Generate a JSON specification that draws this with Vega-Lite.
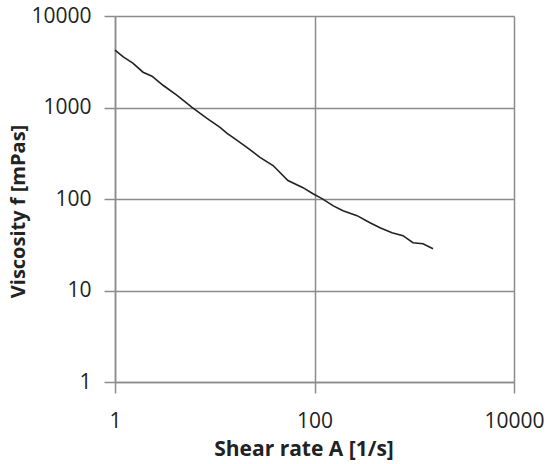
{
  "$schema": "https://vega.github.io/schema/vega-lite/v6.json",
  "width": 399,
  "height": 366,
  "autosize": {"type": "none"},
  "padding": {"left": 115, "top": 16, "right": 36, "bottom": 82},
  "background": "white",
  "config": {
    "view": {"stroke": null},
    "axis": {
      "labelFont": "Open Sans",
      "labelFontSize": 21,
      "labelColor": "#222222",
      "titleFont": "Open Sans",
      "titleFontWeight": "bold",
      "titleColor": "#222222",
      "gridColor": "#8c8c8c",
      "gridWidth": 1.5,
      "gridOpacity": 1,
      "domainColor": "#8c8c8c",
      "domainWidth": 1.5,
      "tickColor": "#8c8c8c",
      "tickWidth": 1.5,
      "tickSize": 11
    }
  },
  "data": {
    "values": [
      {"rate": 1, "visc": 4240},
      {"rate": 1.21, "visc": 3580},
      {"rate": 1.51, "visc": 3060},
      {"rate": 1.91, "visc": 2430},
      {"rate": 2.35, "visc": 2200},
      {"rate": 3.03, "visc": 1750},
      {"rate": 4.19, "visc": 1360},
      {"rate": 5.92, "visc": 1005},
      {"rate": 8.36, "visc": 762},
      {"rate": 11.3, "visc": 607},
      {"rate": 13.3, "visc": 522},
      {"rate": 15.2, "visc": 471},
      {"rate": 21.0, "visc": 366},
      {"rate": 28.4, "visc": 285},
      {"rate": 38.4, "visc": 232},
      {"rate": 54.2, "visc": 159},
      {"rate": 76.7, "visc": 133},
      {"rate": 96.6, "visc": 114},
      {"rate": 119, "visc": 101},
      {"rate": 153, "visc": 84.7},
      {"rate": 193, "visc": 74.6},
      {"rate": 267, "visc": 65.8},
      {"rate": 360, "visc": 55.1},
      {"rate": 454, "visc": 48.5},
      {"rate": 598, "visc": 42.8},
      {"rate": 771, "visc": 39.7},
      {"rate": 971, "visc": 33.3},
      {"rate": 1224, "visc": 32.4},
      {"rate": 1542, "visc": 28.6}
    ]
  },
  "mark": {"type": "line", "color": "#222222", "strokeWidth": 1.6},
  "encoding": {
    "x": {
      "field": "rate",
      "type": "quantitative",
      "scale": {"type": "log", "domain": [1, 10000], "nice": false},
      "axis": {
        "title": "Shear rate A [1/s]",
        "titleFontSize": 21,
        "values": [1, 100, 10000],
        "format": "d",
        "labelBaseline": "alphabetic",
        "labelPadding": 34,
        "labelFlush": false,
        "titleX": 188.5,
        "titleY": 73,
        "titleAlign": "center",
        "titleBaseline": "alphabetic"
      }
    },
    "y": {
      "field": "visc",
      "type": "quantitative",
      "scale": {"type": "log", "domain": [1, 10000], "nice": false},
      "axis": {
        "title": "Viscosity f [mPas]",
        "titleFontSize": 20,
        "values": [1, 10, 100, 1000, 10000],
        "format": "d",
        "labelPadding": 13,
        "labelFlush": false,
        "titleX": -97,
        "titleY": 195,
        "titleAngle": -90,
        "titleAlign": "center",
        "titleBaseline": "middle"
      }
    }
  }
}
